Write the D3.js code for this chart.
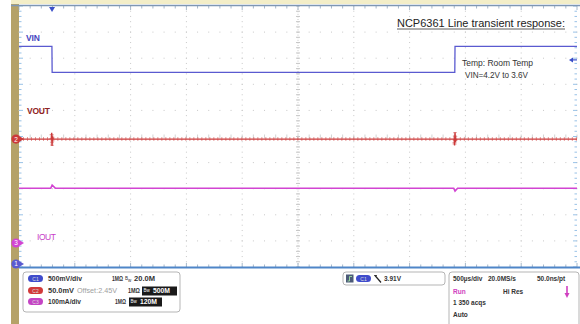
<!DOCTYPE html>
<html><head><meta charset="utf-8">
<script src="https://cdn.jsdelivr.net/npm/d3@7"></script>
<style>body{margin:0;background:#fff}svg{display:block;font-family:"Liberation Sans",Arial,sans-serif}</style>
</head><body><svg id="c" width="580" height="324"></svg>
<script>
// ---------- data (time in ms from left edge of screen) ----------
const vinTime  = [0, 0.295, 0.297, 3.905, 3.907, 5];
const vinVolts = [4.17, 4.17, 3.67, 3.67, 4.17, 4.17];
const voutTime  = [0, 0.290, 0.293, 0.296, 0.300, 0.306, 3.900, 3.903, 3.907, 3.911, 3.917, 5];
const voutVolts = [2.45, 2.45, 2.462, 2.437, 2.455, 2.45, 2.45, 2.438, 2.463, 2.445, 2.45, 2.45];
const ioutTime = [0, 0.285, 0.297, 0.325, 3.895, 3.907, 3.93, 5];
const ioutAmps = [0.21, 0.21, 0.222, 0.21, 0.21, 0.199, 0.21, 0.21];
const trigLevel = 3.91;
const chanNames  = ["C1", "C2", "C3"];
const chanLabels = ["VIN", "VOUT", "IOUT"];
const chanScale  = ["500mV/div", "50.0mV", "100mA/div"];
const chanBW     = ["20.0M", "500M", "120M"];
const timeInfo   = ["500µs/div", "20.0MS/s", "50.0ns/pt"];
const acqInfo    = ["Run", "Hi Res", "1 350 acqs", "Auto"];

// ---------- layout ----------
const svg = d3.select("#c");
const L = 19, R = 577, T = 6, B = 267;
const x = d3.scaleLinear().domain([0, 5]).range([L, R]);
const yDiv = d3.scaleLinear().domain([-5, 5]).range([B, T]);
// channel settings: volts per div and position (div)
const ch1 = v => yDiv(-4.885 + v / 0.5);
const ch2 = v => yDiv(-0.1 + (v - 2.45) / 0.05);
const ch3 = v => yDiv(-4.08 + v / 0.1);

const blue = "#5a5ad0", red = "#cc3a3a", mag = "#d244d2";

// top strip & khaki bar
svg.append("rect").attr("x", 11).attr("y", 0).attr("width", 569).attr("height", 4).attr("fill", "#f3eec8");
svg.append("rect").attr("x", 11).attr("y", 4).attr("width", 8).attr("height", 320).attr("fill", "#b5a268");

// grid dots
const g = svg.append("g");
const xDivs = d3.range(1, 10).map(i => L + (R - L) * i / 10);
const yDivs = d3.range(-4, 5).map(d => yDiv(d));
const dx = (R - L) / 50, dy = (B - T) / 50;
xDivs.forEach((xx, i) => {
  if (i === 4) return;
  d3.range(0, 51).forEach(k => g.append("rect").attr("x", xx - 0.5).attr("y", T + k * dy - 0.5).attr("width", 1).attr("height", 1).attr("fill", "#c8c8c8"));
});
yDivs.forEach((yy, i) => {
  if (i === 4) return;
  d3.range(0, 51).forEach(k => g.append("rect").attr("x", L + k * dx - 0.5).attr("y", yy - 0.5).attr("width", 1).attr("height", 1).attr("fill", "#c8c8c8"));
});
// center cross with ticks
const cx = xDivs[4], cy = yDivs[4];
d3.range(0, 51).forEach(k => {
  g.append("line").attr("x1", cx - 2).attr("x2", cx + 2).attr("y1", T + k * dy).attr("y2", T + k * dy).attr("stroke", "#b8b8b8").attr("stroke-width", 0.8);
  g.append("line").attr("y1", cy - 2).attr("y2", cy + 2).attr("x1", L + k * dx).attr("x2", L + k * dx).attr("stroke", "#c8c8c8").attr("stroke-width", 0.8);
});
g.append("line").attr("x1", cx).attr("x2", cx).attr("y1", T).attr("y2", B).attr("stroke", "#c8c8c8").attr("stroke-dasharray", "1,1.6");
// border ticks
d3.range(0, 51).forEach(k => {
  const xx = L + k * dx, yy = T + k * dy, len = k % 5 === 0 ? 4 : 2.5;
  g.append("line").attr("x1", xx).attr("x2", xx).attr("y1", T).attr("y2", T + len).attr("stroke", "#8fa6bd").attr("stroke-width", 0.8);
  g.append("line").attr("x1", xx).attr("x2", xx).attr("y1", B).attr("y2", B - len).attr("stroke", "#8fa6bd").attr("stroke-width", 0.8);
  g.append("line").attr("y1", yy).attr("y2", yy).attr("x1", L).attr("x2", L + len).attr("stroke", "#7fb3e0").attr("stroke-width", 0.8);
  g.append("line").attr("y1", yy).attr("y2", yy).attr("x1", R).attr("x2", R - len).attr("stroke", "#7fb3e0").attr("stroke-width", 0.8);
});
svg.append("line").attr("x1", 11).attr("x2", 580).attr("y1", T - 0.5).attr("y2", T - 0.5).attr("stroke", "#7e97b4").attr("stroke-width", 1.5);
svg.append("line").attr("x1", L).attr("x2", 580).attr("y1", B + 0.5).attr("y2", B + 0.5).attr("stroke", "#4f86c8").attr("stroke-width", 2);

// traces
const line = (ts, vs, f) => d3.line().x((d, i) => x(ts[i])).y(d => f(d))(vs);
svg.append("path").attr("d", line(vinTime, vinVolts, ch1)).attr("fill", "none").attr("stroke", blue).attr("stroke-width", 1.3);
svg.append("path").attr("d", line(voutTime, voutVolts, ch2)).attr("fill", "none").attr("stroke", red).attr("stroke-width", 4).attr("stroke-dasharray", "1,3").attr("opacity", 0.5);
svg.append("path").attr("d", line(voutTime, voutVolts, ch2)).attr("fill", "none").attr("stroke", red).attr("stroke-width", 1.4);
svg.append("path").attr("d", line(ioutTime, ioutAmps, ch3)).attr("fill", "none").attr("stroke", mag).attr("stroke-width", 1.6);

// trace labels
svg.append("text").attr("x", 26).attr("y", 41).attr("font-size", 8.5).attr("fill", "#4646c0").attr("font-weight", "bold").attr("textLength", 14).text(chanLabels[0]);
svg.append("text").attr("x", 27).attr("y", 114).attr("font-size", 8.5).attr("fill", "#8f2323").attr("font-weight", "bold").attr("textLength", 23).text(chanLabels[1]);
svg.append("text").attr("x", 37).attr("y", 240).attr("font-size", 8.5).attr("fill", "#c83cc8").attr("textLength", 19).text(chanLabels[2]);

// channel markers
[[ch2(2.45), red, "2"], [ch3(0), mag, "3"], [ch1(0), blue, "1"]].forEach(([yy, c, t]) => {
  svg.append("path").attr("d", `M20,${yy - 2.5}L24,${yy}L20,${yy + 2.5}Z`).attr("fill", c);
  svg.append("circle").attr("cx", 16).attr("cy", yy).attr("r", 4.6).attr("fill", c);
  svg.append("text").attr("x", 16).attr("y", yy + 2.5).attr("text-anchor", "middle").attr("font-size", 6.5).attr("fill", "#fff").text(t);
});
// trigger position marker & level marker
svg.append("path").attr("d", `M${x(0.296) - 3},7L${x(0.296) + 3},7L${x(0.296)},12Z`).attr("fill", "#3b4fc9");
const ty = ch1(trigLevel);
svg.append("path").attr("d", `M569,${ty}L573,${ty - 2.5}L573,${ty + 2.5}Z`).attr("fill", "#3b4fc9");
svg.append("line").attr("x1", 572).attr("x2", 577).attr("y1", ty).attr("y2", ty).attr("stroke", "#3b4fc9").attr("stroke-width", 1.2);

// annotations
svg.append("text").attr("x", 397).attr("y", 27).attr("font-size", 11).attr("fill", "#222").attr("textLength", 168).attr("lengthAdjust", "spacingAndGlyphs").text("NCP6361 Line transient response:");
svg.append("line").attr("x1", 397).attr("x2", 565).attr("y1", 29).attr("y2", 29).attr("stroke", "#333").attr("stroke-width", 0.8);
svg.append("text").attr("x", 462).attr("y", 66).attr("font-size", 9).attr("fill", "#333").attr("textLength", 71).attr("lengthAdjust", "spacingAndGlyphs").text("Temp: Room Temp");
svg.append("text").attr("x", 465).attr("y", 78).attr("font-size", 9).attr("fill", "#333").attr("textLength", 63).attr("lengthAdjust", "spacingAndGlyphs").text("VIN=4.2V to 3.6V");

// bottom info panel
const fs = 6.5, tc = "#333";
const box = (x0, y0, w, h) => svg.append("rect").attr("x", x0).attr("y", y0).attr("width", w).attr("height", h).attr("rx", 3).attr("fill", "#fff").attr("stroke", "#b5b5b5").attr("stroke-width", 1);
const txt = (x0, y0, s, c, len) => {
  const t = svg.append("text").attr("x", x0).attr("y", y0).attr("font-size", fs).attr("fill", c || tc).attr("font-weight", "bold").text(s);
  if (len) t.attr("textLength", len).attr("lengthAdjust", "spacingAndGlyphs");
  return t;
};
const pill = (x0, yc, c, s) => {
  svg.append("rect").attr("x", x0).attr("y", yc - 4).attr("width", 15).attr("height", 7).attr("rx", 3.5).attr("fill", c);
  svg.append("text").attr("x", x0 + 7.5).attr("y", yc + 1.8).attr("text-anchor", "middle").attr("font-size", 5).attr("fill", "#ddd").text(s);
};
box(23, 272, 157, 40);
const rowsY = [279, 291, 302];
const pillC = ["#3f4ccc", "#d23a3a", "#c444c4"];
const scaleLen = [34, 26, 33];
rowsY.forEach((yy, i) => { pill(28, yy, pillC[i], chanNames[i]); txt(48, yy + 2, chanScale[i], null, scaleLen[i]); });
txt(77, rowsY[1] + 2, "Offset:2.45V", "#a0a0a0", 40).attr("font-weight", "normal");
txt(112, rowsY[0] + 2, "1MΩ", null, 11);
txt(128, rowsY[1] + 2, "1MΩ", null, 12);
txt(115, rowsY[2] + 2, "1MΩ", null, 11);
svg.append("text").attr("x", 125).attr("y", rowsY[0] + 0.5).attr("font-size", 4.5).attr("fill", tc).text("B");
svg.append("text").attr("x", 128).attr("y", rowsY[0] + 3).attr("font-size", 4.5).attr("fill", tc).text("w");
txt(134, rowsY[0] + 2, chanBW[0], null, 21);
[[142, 35, 1, 17], [129, 33, 2, 17]].forEach(([x0, w, i, tl]) => {
  svg.append("rect").attr("x", x0).attr("y", rowsY[i] - 4.5).attr("width", w).attr("height", 9).attr("fill", "#1a1a1a");
  svg.append("text").attr("x", x0 + 1.5).attr("y", rowsY[i] + 1).attr("font-size", 4.5).attr("fill", "#fff").text("Bw");
  svg.append("text").attr("x", x0 + 11).attr("y", rowsY[i] + 2.3).attr("font-size", fs).attr("fill", "#fff").attr("font-weight", "bold").attr("textLength", tl).attr("lengthAdjust", "spacingAndGlyphs").text(chanBW[i]);
});

box(343, 272, 102, 13);
svg.append("rect").attr("x", 346).attr("y", 274.5).attr("width", 7.5).attr("height", 8).attr("fill", "#4b5a78");
svg.append("path").attr("d", "M347.5,281L349.5,281L349.5,276.5L352,276.5").attr("fill", "none").attr("stroke", "#9fe09f").attr("stroke-width", 0.9);
pill(356, 279, "#3f4ccc", chanNames[0]);
svg.append("path").attr("d", "M375,275.5L381,282.5").attr("stroke", "#222").attr("stroke-width", 1.2);
svg.append("line").attr("x1", 374).attr("x2", 377).attr("y1", 275.5).attr("y2", 275.5).attr("stroke", "#222").attr("stroke-width", 0.8);
txt(384, 281, trigLevel.toFixed(2) + "V");

box(449, 272, 130, 56);
txt(453, 281, timeInfo[0]);
txt(488, 281, timeInfo[1]);
txt(537, 281, timeInfo[2]);
txt(453, 294, acqInfo[0], "#d040c0");
txt(503, 294, acqInfo[1]);
txt(453, 305, acqInfo[2]);
txt(453, 317, acqInfo[3]);
svg.append("line").attr("x1", 567).attr("x2", 567).attr("y1", 286).attr("y2", 294).attr("stroke", "#d040c0").attr("stroke-width", 1.6);
svg.append("path").attr("d", "M564.5,293L569.5,293L567,298Z").attr("fill", "#d040c0");
</script></body></html>
